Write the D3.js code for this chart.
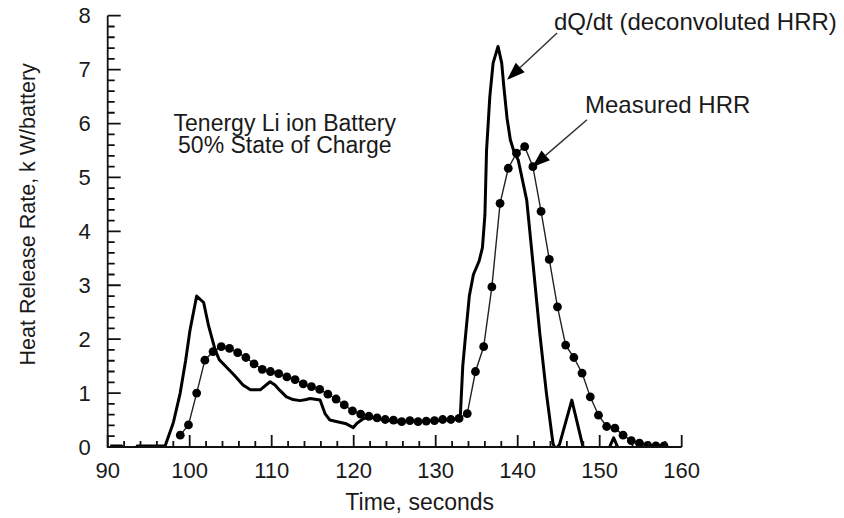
<!DOCTYPE html>
<html>
<head>
<meta charset="utf-8">
<script src="https://cdn.jsdelivr.net/npm/d3@7"></script>
<style>
  html, body { margin: 0; padding: 0; background: #fff; }
  svg { display: block; font-family: "Liberation Sans", Arial, Helvetica, sans-serif; }
</style>
</head>
<body>
<svg id="chart" width="844" height="518"></svg>
<script>
// Time axis (seconds) and heat release rate axis (kW per battery)
const xTicks = [90, 100, 110, 120, 130, 140, 150, 160];
const yTicks = [0, 1, 2, 3, 4, 5, 6, 7, 8];

// Deconvoluted heat release rate, dQ/dt
const dqTime = [90.3, 91.7, 92.0, 93.3, 93.6, 97.0, 98.0, 98.84, 99.5, 100.04, 100.85, 101.7, 102.3, 103.1, 103.6,
  104.5, 105.5, 106.5, 107.4, 108.6, 109.8, 110.4, 111.0, 111.8, 112.6, 113.45, 114.2, 114.7, 115.9, 116.5,
  117.1, 118.0, 119.1, 119.95, 120.4, 121.2, 122, 123, 124, 125, 126, 127, 128, 129, 130, 131, 132, 132.8,
  133.0, 133.3, 133.6, 134.1, 134.6, 135.3, 135.7, 136.0, 136.2, 136.6, 137.0, 137.6, 138.05, 138.3, 138.7,
  139.1, 139.5, 140.07, 141.1, 141.9, 142.7, 143.5, 144.3, 144.6, 145.1, 146.6, 148.0, 148.3, 150.9, 151.2,
  151.7, 152.2, 152.5, 153.5];
const dqValue = [0.02, 0.02, -0.15, -0.15, 0.02, 0.02, 0.45, 1.0, 1.6, 2.17, 2.80, 2.68, 2.25, 1.80, 1.62,
  1.48, 1.32, 1.15, 1.06, 1.06, 1.21, 1.15, 1.05, 0.93, 0.88, 0.86, 0.88, 0.90, 0.87, 0.62,
  0.50, 0.47, 0.43, 0.36, 0.44, 0.53, 0.55, 0.52, 0.50, 0.47, 0.47, 0.49, 0.47, 0.48, 0.49, 0.50, 0.51, 0.53,
  0.56, 1.5, 2.0, 2.8, 3.2, 3.45, 3.7, 4.3, 5.5, 6.5, 7.12, 7.43, 7.12, 6.7, 6.1,
  5.7, 5.5, 5.32, 4.58, 3.35, 2.10, 1.00, 0.07, -0.05, 0.05, 0.87, -0.02, -0.2, -0.2, 0.0,
  0.17, 0.0, -0.2, -0.2];

// Measured heat release rate, one reading per second
const hrrTime = [98.85, 99.85, 100.85, 101.85, 102.85, 103.85, 104.85, 105.85, 106.85, 107.85, 108.85,
  109.85, 110.85, 111.85, 112.85, 113.85, 114.85, 115.85, 116.85, 117.85, 118.85, 119.85, 120.85,
  121.85, 122.85, 123.85, 124.85, 125.85, 126.85, 127.85, 128.85, 129.85, 130.85, 131.85, 132.85,
  133.85, 134.85, 135.85, 136.85, 137.85, 138.85, 139.85, 140.85, 141.85, 142.85, 143.85, 144.85,
  145.85, 146.85, 147.85, 148.85, 149.85, 150.85, 151.85, 152.85, 153.85, 154.85, 155.85, 156.85, 157.85];
const hrrValue = [0.22, 0.41, 1.00, 1.61, 1.77, 1.86, 1.83, 1.75, 1.66, 1.54, 1.44,
  1.40, 1.36, 1.30, 1.25, 1.17, 1.12, 1.07, 0.98, 0.89, 0.78, 0.67, 0.61,
  0.57, 0.54, 0.51, 0.50, 0.47, 0.49, 0.47, 0.48, 0.49, 0.51, 0.51, 0.53,
  0.62, 1.40, 1.86, 2.97, 4.52, 5.17, 5.45, 5.57, 5.20, 4.37, 3.48, 2.60,
  1.89, 1.66, 1.37, 0.93, 0.59, 0.38, 0.35, 0.22, 0.12, 0.07, 0.03, 0.02, 0.02];

const titleLines = ["Tenergy Li ion Battery", "50% State of Charge"];
const dqLabel = "dQ/dt (deconvoluted HRR)";
const hrrLabel = "Measured HRR";
const xTitle = "Time, seconds";
const yTitle = "Heat Release Rate, k W/battery";

const svg = d3.select("#chart");
const x = d3.scaleLinear().domain([90, 160]).range([107.7, 681.7]);
const y = d3.scaleLinear().domain([0, 8]).range([447, 15.7]);
const ink = "#111";
const textInk = "#1a1a1a";

const dq = dqTime.map((t, i) => ({ t, v: dqValue[i] }));
const hrr = hrrTime.map((t, i) => ({ t, v: hrrValue[i] }));

svg.append("clipPath").attr("id", "plot-clip")
  .append("rect")
  .attr("x", x(90)).attr("y", y(8))
  .attr("width", x(160) - x(90)).attr("height", y(0) - y(8));

const line = d3.line().x(d => x(d.t)).y(d => y(d.v));
const plot = svg.append("g").attr("clip-path", "url(#plot-clip)");

// Measured HRR: thin line with filled dots
plot.append("path").datum(hrr)
  .attr("d", line).attr("fill", "none")
  .attr("stroke", "#222").attr("stroke-width", 1.4);
plot.selectAll("circle.hrr").data(hrr).join("circle")
  .attr("class", "hrr")
  .attr("cx", d => x(d.t)).attr("cy", d => y(d.v)).attr("r", 4.4)
  .attr("fill", "#000");

// dQ/dt: heavy solid line
plot.append("path").datum(dq)
  .attr("d", line).attr("fill", "none")
  .attr("stroke", "#000").attr("stroke-width", 3)
  .attr("stroke-linejoin", "round");

// Axes: plain lines with inward major and minor ticks
const xMinor = d3.range(90, 160.01, 2).filter(v => v % 10 !== 0);
const yMinor = d3.range(1, 40).map(i => i / 5).filter((v, i) => (i + 1) % 5 !== 0);
const tickPaths = [];
xTicks.forEach(d => tickPaths.push(`M${x(d)},${y(0)}V${y(0) - 12}`));
xMinor.forEach(d => tickPaths.push(`M${x(d)},${y(0)}V${y(0) - 6}`));
yTicks.forEach(d => tickPaths.push(`M${x(90)},${y(d)}H${x(90) + 13}`));
yMinor.forEach(d => tickPaths.push(`M${x(90)},${y(d)}H${x(90) + 7}`));
svg.append("path")
  .attr("d", tickPaths.join(""))
  .attr("fill", "none").attr("stroke", ink).attr("stroke-width", 1.8);
svg.append("path")
  .attr("d", `M${x(90)},${y(8)}V${y(0)}H${x(160)}`)
  .attr("fill", "none").attr("stroke", ink).attr("stroke-width", 1.8);

svg.selectAll("text.xlab").data(xTicks).join("text").attr("class", "xlab")
  .attr("x", d => x(d)).attr("y", y(0) + 31)
  .attr("text-anchor", "middle").attr("font-size", "22px").attr("fill", textInk)
  .text(d3.format("d"));
svg.selectAll("text.ylab").data(yTicks).join("text").attr("class", "ylab")
  .attr("x", x(90) - 17).attr("y", d => y(d)).attr("dy", "0.35em")
  .attr("text-anchor", "end").attr("font-size", "22px").attr("fill", textInk)
  .text(d3.format("d"));

// Axis titles
svg.append("text")
  .attr("x", (x(90) + x(160)) / 2 + 25).attr("y", 510)
  .attr("text-anchor", "middle").attr("font-size", "23px").attr("fill", textInk)
  .text(xTitle);
svg.append("text")
  .attr("transform", `translate(35,${(y(0) + y(8)) / 2 - 17}) rotate(-90)`)
  .attr("text-anchor", "middle").attr("font-size", "21.5px").attr("fill", textInk)
  .text(yTitle);

// Annotations
titleLines.forEach((s, i) => {
  svg.append("text")
    .attr("x", x(111.6)).attr("y", y(5.87) + i * 22)
    .attr("text-anchor", "middle").attr("font-size", "23px").attr("fill", textInk)
    .text(s);
});

function arrow(from, to, label, labelPos) {
  const x1 = x(from[0]), y1 = y(from[1]), x2 = x(to[0]), y2 = y(to[1]);
  const ang = Math.atan2(y2 - y1, x2 - x1);
  const len = 18, half = 6.5;
  const bx = x2 - len * Math.cos(ang), by = y2 - len * Math.sin(ang);
  svg.append("line")
    .attr("x1", x1).attr("y1", y1).attr("x2", bx).attr("y2", by)
    .attr("stroke", "#333").attr("stroke-width", 1.5);
  const pts = [
    [x2, y2],
    [bx + half * Math.sin(ang), by - half * Math.cos(ang)],
    [bx - half * Math.sin(ang), by + half * Math.cos(ang)]
  ];
  svg.append("polygon").attr("points", pts.map(p => p.join(",")).join(" ")).attr("fill", "#000");
  svg.append("text")
    .attr("x", x(labelPos[0])).attr("y", y(labelPos[1]))
    .attr("font-size", "24px").attr("fill", textInk)
    .text(label);
}
arrow([144.8, 7.68], [138.7, 6.81], dqLabel, [144.43, 7.74]);
arrow([148.45, 6.07], [141.75, 5.19], hrrLabel, [148.2, 6.2]);
</script>
</body>
</html>
